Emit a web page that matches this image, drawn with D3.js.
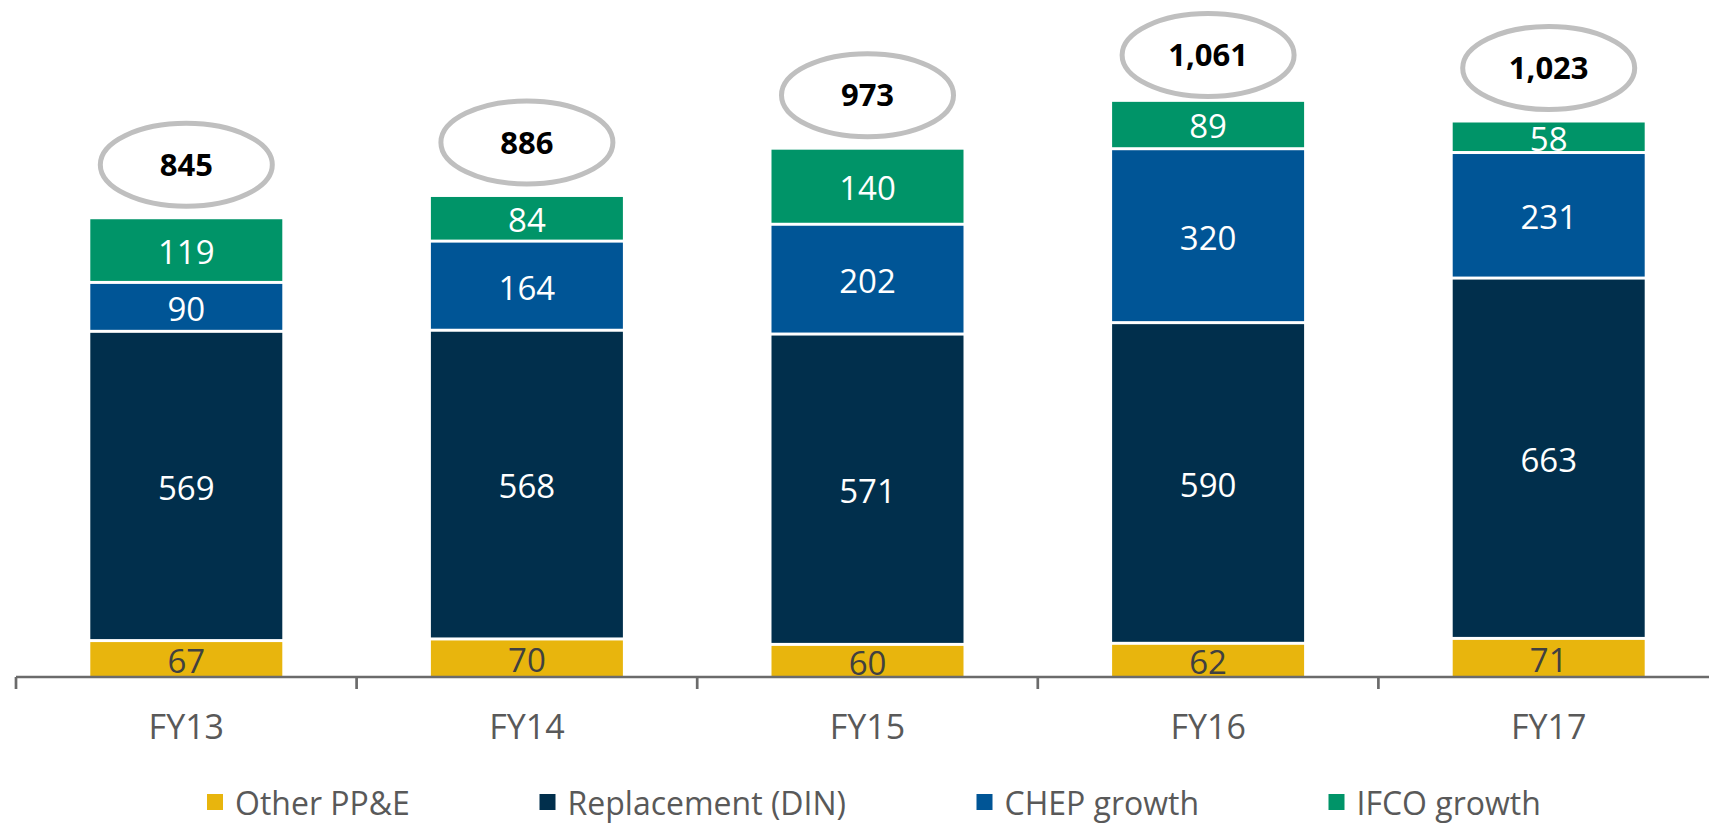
<!DOCTYPE html>
<html>
<head>
<meta charset="utf-8">
<script src="https://cdn.jsdelivr.net/npm/d3@7"></script>
<style>
  html, body { margin: 0; padding: 0; background: #fff; }
  svg { display: block; }
  text { font-family: "Open Sans", "Noto Sans", sans-serif; }
</style>
</head>
<body>
<svg id="chart" width="1709" height="824"></svg>
<script>
// ---- data ----
const categories = ["FY13", "FY14", "FY15", "FY16", "FY17"];
const seriesNames = ["Other PP&E", "Replacement (DIN)", "CHEP growth", "IFCO growth"];
const otherPPE    = [67, 70, 60, 62, 71];
const replacement = [569, 568, 571, 590, 663];
const chepGrowth  = [90, 164, 202, 320, 231];
const ifcoGrowth  = [119, 84, 140, 89, 58];
const totals      = [845, 886, 973, 1061, 1023];
const totalLabels = ["845", "886", "973", "1,061", "1,023"];

const seriesValues = [otherPPE, replacement, chepGrowth, ifcoGrowth];
const colors = ["#E8B50D", "#012F4C", "#005596", "#009468"];
const labelColors = ["#404040", "#ffffff", "#ffffff", "#ffffff"];

// ---- layout ----
const svg = d3.select("#chart");
const axisY = 677;
const step = 340.6;
const x0 = 16;

const xBand = d3.scaleBand().domain(categories).range([x0, x0 + step * categories.length]).padding(0);
const xBar = d3.scaleBand().domain(categories).range([x0, x0 + step * categories.length])
  .paddingInner(0.4363).paddingOuter(0.21815);
const y = d3.scaleLinear().domain([0, 1200]).range([axisY, axisY - 1200 * 0.5435]);

const stackData = categories.map((c, i) => {
  const o = { cat: c };
  seriesNames.forEach((s, k) => { o[s] = seriesValues[k][i]; });
  return o;
});
const stack = d3.stack().keys(seriesNames)(stackData);

const defs = svg.append("defs");
const gap = 1.5;

stack.forEach((layer, k) => {
  const g = svg.append("g");
  layer.forEach((d, i) => {
    const xa = xBar(categories[i]);
    const w = xBar.bandwidth();
    const top = y(d[1]) + gap;
    const bottom = k === 0 ? y(d[0]) : y(d[0]) - gap;
    const id = "clip-" + k + "-" + i;
    defs.append("clipPath").attr("id", id)
      .append("rect").attr("x", xa).attr("y", top).attr("width", w).attr("height", bottom - top);
    g.append("rect")
      .attr("x", xa).attr("y", top).attr("width", w).attr("height", bottom - top)
      .attr("fill", colors[k]);
    g.append("text")
      .attr("clip-path", "url(#" + id + ")")
      .attr("x", xa + w / 2)
      .attr("y", (y(d[0]) + y(d[1])) / 2)
      .attr("dy", "0.42em")
      .attr("text-anchor", "middle")
      .attr("font-size", 33)
      .attr("fill", labelColors[k])
      .text(seriesValues[k][i]);
  });
});

// ---- axis ----
const axis = d3.axisBottom(xBand).tickSize(0).tickPadding(0);
const ax = svg.append("g").attr("transform", `translate(0,${axisY})`).call(axis);
ax.select(".domain").remove();
ax.selectAll(".tick text")
  .attr("y", 62).attr("dy", 0)
  .attr("font-size", 34)
  .attr("font-family", "'Open Sans', 'Noto Sans', sans-serif")
  .attr("fill", "#595959");
svg.append("line")
  .attr("x1", x0).attr("x2", 1709).attr("y1", axisY).attr("y2", axisY)
  .attr("stroke", "#6b6b6b").attr("stroke-width", 2.7);
svg.selectAll(".bt").data(categories).enter().append("line")
  .attr("x1", d => xBand(d)).attr("x2", d => xBand(d))
  .attr("y1", axisY).attr("y2", axisY + 12)
  .attr("stroke", "#6b6b6b").attr("stroke-width", 2.7);

// ---- total ovals ----
totals.forEach((t, i) => {
  const cx = xBar(categories[i]) + xBar.bandwidth() / 2;
  const cy = Math.max(y(t) - 53, 55);
  svg.append("ellipse")
    .attr("cx", cx).attr("cy", cy).attr("rx", 86).attr("ry", 41.5)
    .attr("fill", "#fff").attr("stroke", "#BFBFBF").attr("stroke-width", 5);
  svg.append("text")
    .attr("x", cx).attr("y", cy).attr("dy", "0.36em")
    .attr("text-anchor", "middle").attr("font-size", 31).attr("font-weight", "bold")
    .attr("fill", "#000").text(totalLabels[i]);
});

// ---- legend ----
const legendX = [207, 539.5, 976.5, 1328.5];
const lg = svg.append("g");
seriesNames.forEach((s, k) => {
  lg.append("rect").attr("x", legendX[k]).attr("y", 794).attr("width", 16).attr("height", 16)
    .attr("fill", colors[k]);
  lg.append("text").attr("x", legendX[k] + 28).attr("y", 815)
    .attr("font-size", 32).attr("fill", "#595959").text(s);
});
</script>
</body>
</html>
